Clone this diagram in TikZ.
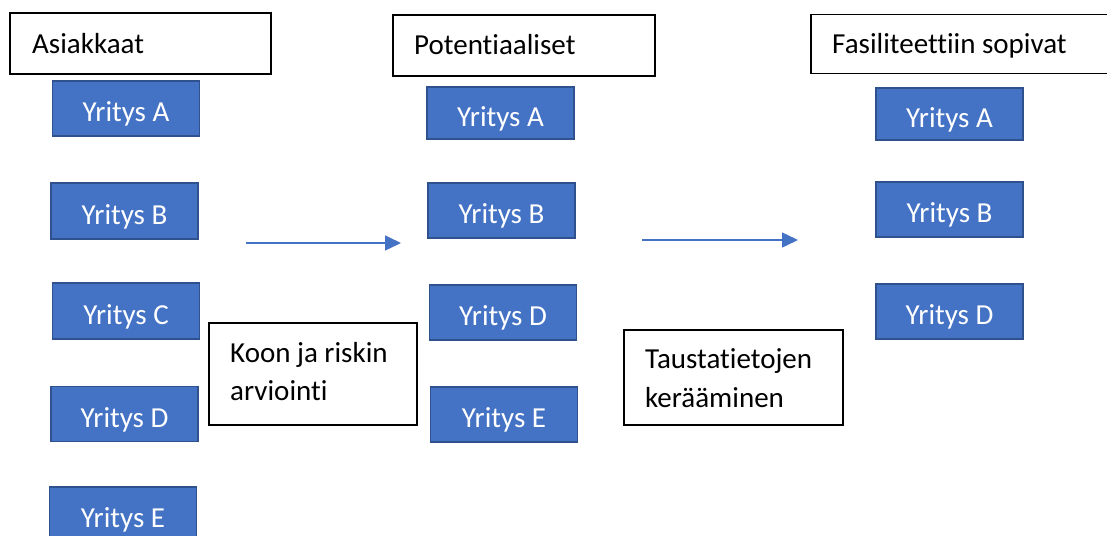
\documentclass[tikz,border=0pt]{standalone}
\usepackage{fontspec}
\setmainfont{Carlito}[Ligatures=NoCommon]
\usetikzlibrary{arrows.meta}
\definecolor{firmblue}{HTML}{4472C4}
\definecolor{firmedge}{HTML}{2F528F}
\newcommand{\bodyfont}{\fontsize{29}{38}\selectfont}
\tikzset{
  firm/.style={draw=firmedge, fill=firmblue, line width=1.5pt, text=white,
    minimum width=147pt, minimum height=55pt, inner sep=0pt,
    text height=26pt, text depth=0pt, font=\bodyfont},
  header/.style={draw=black, line width=1.2pt, fill=white,
    minimum height=61pt, inner sep=0pt},
  label/.style={font=\bodyfont, inner sep=0pt, anchor=base west, text=black},
  note/.style={draw=black, line width=1.2pt, fill=white, inner sep=0pt},
  flow/.style={draw=firmblue, line width=1.5pt,
    -{Triangle[length=16pt,width=15pt]}},
}
\begin{document}
\begin{tikzpicture}[x=1pt, y=-1pt]
  \useasboundingbox (0,0) rectangle (1107,535);
  \clip (0,0) rectangle (1107,535);

  % column headers
  \node[header, minimum width=261pt] (h1) at (140.5,43.5) {};
  \node[label] (h1t) at (32,53) {Asiakkaat};
  \node[header, minimum width=262pt] (h2) at (524,45.5) {};
  \node[label] (h2t) at (414,55) {Potentiaaliset};
  \node[header, minimum width=310pt, minimum height=59pt] (h3) at (966,44) {};
  \node[label] (h3t) at (832,54) {Fasiliteettiin sopivat};

  % all customers
  \node[firm] (a1) at (126,108.5) {Yritys A};
  \node[firm, minimum height=56pt] (b1) at (124.5,211) {Yritys B};
  \node[firm, minimum height=56pt] (c1) at (126,311) {Yritys C};
  \node[firm] (d1) at (124.5,414) {Yritys D};
  \node[firm] (e1) at (123,514.5) {Yritys E};

  % potential customers
  \node[firm, minimum height=52pt] (a2) at (500.5,113) {Yritys A};
  \node[firm] (b2) at (501.5,210.5) {Yritys B};
  \node[firm] (d2) at (503,312.5) {Yritys D};
  \node[firm] (e2) at (504,414.5) {Yritys E};

  % customers suited to the facility
  \node[firm, minimum height=52pt] (a3) at (949.5,114) {Yritys A};
  \node[firm] (b3) at (949.5,209.5) {Yritys B};
  \node[firm] (d3) at (949.5,311.5) {Yritys D};

  % step descriptions
  \node[note, minimum width=208pt, minimum height=102pt] (n1) at (313,374) {};
  \node[label] (n1a) at (230,362) {Koon ja riskin};
  \node[label] (n1b) at (230,400) {arviointi};
  \node[note, minimum width=219pt, minimum height=95pt] (n2) at (733.5,377.5) {};
  \node[label] (n2a) at (645,368) {Taustatietojen};
  \node[label] (n2b) at (645,407) {kerääminen};

  % flow arrows
  \coordinate (f1s) at (246,243);
  \coordinate (f1e) at (401,243);
  \coordinate (f2s) at (642,240);
  \coordinate (f2e) at (798,240);
  \draw[flow] (f1s) -- (f1e);
  \draw[flow] (f2s) -- (f2e);
\end{tikzpicture}
\end{document}
